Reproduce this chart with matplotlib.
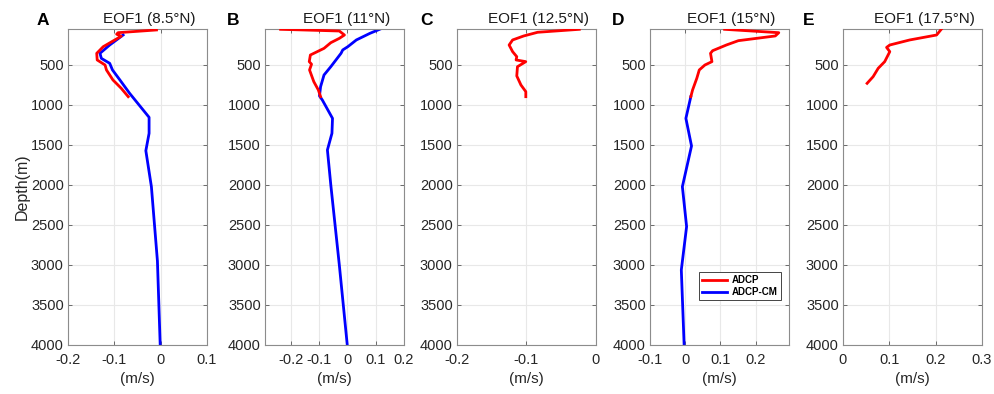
import matplotlib
matplotlib.use("Agg")
import matplotlib.pyplot as plt

plt.rcParams['font.family'] = ['Liberation Sans', 'DejaVu Sans']

# ---------------- data (velocity m/s, depth m) ----------------
a_adcp_u = [-0.009, -0.092, -0.095, -0.085, -0.124, -0.138, -0.137, -0.120, -0.117, -0.103, -0.085, -0.070]
a_adcp_z = [62, 96, 115, 140, 271, 354, 437, 500, 562, 687, 792, 896]
a_cm_u = [-0.081, -0.110, -0.131, -0.128, -0.110, -0.104, -0.088, -0.067, -0.025, -0.025, -0.032, -0.020, -0.007, -0.001]
a_cm_z = [125, 250, 354, 417, 479, 562, 687, 854, 1154, 1354, 1571, 2021, 2950, 4000]

b_adcp_u = [-0.235, -0.028, -0.010, -0.028, -0.058, -0.082, -0.130, -0.134, -0.126, -0.133, -0.118, -0.102, -0.094]
b_adcp_z = [54, 75, 125, 167, 221, 292, 375, 458, 490, 562, 708, 812, 896]
b_cm_u = [0.114, 0.080, 0.032, 0.002, -0.016, -0.022, -0.058, -0.082, -0.094, -0.098, -0.088, -0.052, -0.054, -0.070, -0.058, -0.028, 0.000]
b_cm_z = [54, 104, 187, 271, 312, 354, 521, 625, 771, 887, 937, 1167, 1354, 1562, 2000, 3000, 4000]

c_adcp_u = [-0.024, -0.084, -0.104, -0.120, -0.125, -0.120, -0.114, -0.115, -0.101, -0.113, -0.114, -0.108, -0.101, -0.101]
c_adcp_z = [54, 91, 137, 187, 250, 333, 396, 437, 458, 521, 637, 750, 833, 896]

d_adcp_u = [0.112, 0.266, 0.256, 0.151, 0.117, 0.078, 0.072, 0.076, 0.056, 0.040, 0.033, 0.021, 0.016]
d_adcp_z = [54, 96, 137, 196, 250, 321, 354, 458, 500, 562, 666, 812, 896]
d_cm_u = [0.016, 0.002, 0.018, -0.008, 0.004, -0.011, -0.003]
d_cm_z = [896, 1167, 1512, 2021, 2520, 3062, 4000]

e_adcp_u = [0.212, 0.202, 0.144, 0.101, 0.094, 0.101, 0.090, 0.076, 0.065, 0.052]
e_adcp_z = [54, 125, 187, 250, 280, 333, 458, 541, 646, 729]

letters = ['A', 'B', 'C', 'D', 'E']
titles = ['EOF1 (8.5°N)', 'EOF1 (11°N)', 'EOF1 (12.5°N)', 'EOF1 (15°N)', 'EOF1 (17.5°N)']
xlims = [(-0.2, 0.1), (-0.29, 0.2), (-0.2, 0.0), (-0.1, 0.295), (0.0, 0.3)]
xticks = [[-0.2, -0.1, 0, 0.1], [-0.2, -0.1, 0, 0.1, 0.2], [-0.2, -0.1, 0],
          [-0.1, 0, 0.1, 0.2], [0, 0.1, 0.2, 0.3]]
yticks = [500, 1000, 1500, 2000, 2500, 3000, 3500, 4000]
legend_labels = ['ADCP', 'ADCP-CM']

adcp = [(a_adcp_u, a_adcp_z), (b_adcp_u, b_adcp_z), (c_adcp_u, c_adcp_z), (d_adcp_u, d_adcp_z), (e_adcp_u, e_adcp_z)]
cm = [(a_cm_u, a_cm_z), (b_cm_u, b_cm_z), None, (d_cm_u, d_cm_z), None]

# ---------------- layout ----------------
W, H = 995, 394
fig = plt.figure(figsize=(W / 100, H / 100), dpi=100)
lefts_px = [68, 265, 457, 650, 843]
letter_px = [37, 227, 420, 612, 803]
ax_w, top_px, bot_px = 139, 29, 345

def fmt(v):
    s = ('%g' % v)
    return '0' if s in ('0', '-0') else s

spine_c = '#8c8c8c'
for i in range(5):
    ax = fig.add_axes([lefts_px[i] / W, (H - bot_px) / H, ax_w / W, (bot_px - top_px) / H])
    u, z = adcp[i]
    ax.plot(u, z, color='#ff0000', lw=2.0, label=legend_labels[0], zorder=3)
    if cm[i] is not None:
        cu, cz = cm[i]
        ax.plot(cu, cz, color='#0000ff', lw=2.0, label=legend_labels[1], zorder=2)
    ax.set_xlim(*xlims[i])
    ax.set_ylim(4000, 50)
    ax.set_xticks(xticks[i])
    ax.set_xticklabels([fmt(v) for v in xticks[i]])
    ax.set_yticks(yticks)
    ax.grid(True, color='#e8e8e8', lw=0.8)
    ax.set_axisbelow(True)
    for s in ax.spines.values():
        s.set_color(spine_c)
        s.set_linewidth(0.8)
    ax.tick_params(direction='in', length=3, width=0.6, color='#555555',
                   top=True, right=True, labelsize=10.5, labelcolor='#262626')
    ax.tick_params(axis='x', pad=6)
    ax.tick_params(axis='y', pad=3)
    ax.set_xlabel('(m/s)', fontsize=11, color='#262626', labelpad=3)
    if i == 0:
        ax.set_ylabel('Depth(m)', fontsize=11.5, color='#262626', labelpad=1)
    ax.text(0.586, 1.008, titles[i], transform=ax.transAxes, ha='center', va='bottom',
            fontsize=11, color='#1a1a1a')
    fig.text(letter_px[i] / W, 1 - 25 / H, letters[i], fontsize=12.5, fontweight='bold',
             ha='left', va='baseline')
    if i == 3:
        leg = ax.legend(loc='upper right', bbox_to_anchor=(0.945, 0.232),
                        prop={'weight': 'bold', 'size': 7}, handlelength=2.6,
                        borderpad=0.35, labelspacing=0.2, handletextpad=0.5,
                        fancybox=False, framealpha=1, borderaxespad=0)
        leg.get_frame().set_edgecolor('#444444')
        leg.get_frame().set_linewidth(0.7)

fig.savefig('out.png', dpi=100)
